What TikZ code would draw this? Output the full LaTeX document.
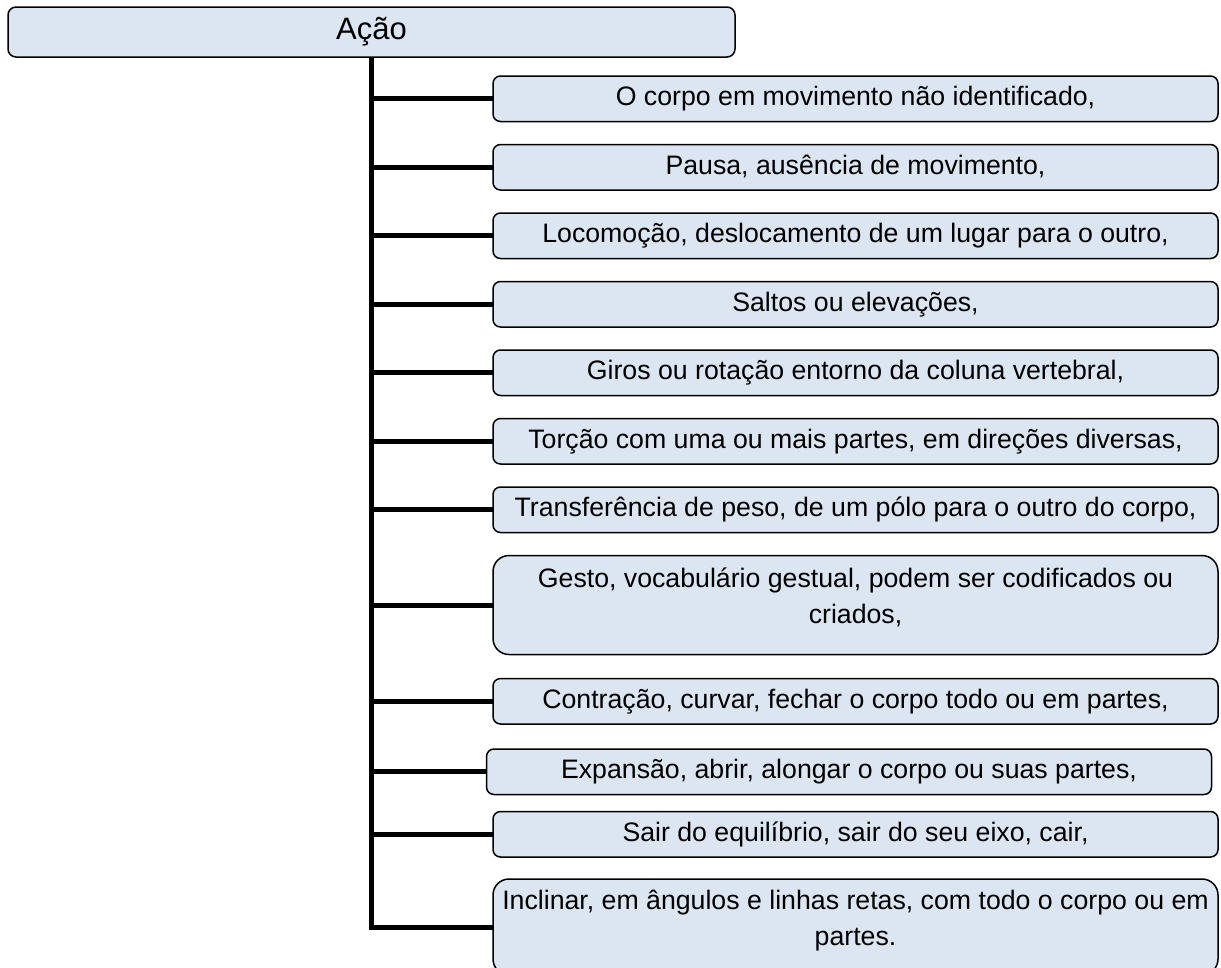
\documentclass[tikz,border=0pt]{standalone}
\usepackage{fontspec}
\setmainfont{Liberation Sans}
\usetikzlibrary{positioning}
\definecolor{boxfill}{RGB}{220,230,242}

\begin{document}
\begin{tikzpicture}[x = 1pt, y = -1pt, node distance = 23pt, line width = 1.5pt,
						main node/.style = {rectangle, draw, fill = boxfill, rounded corners = 8pt, minimum width = 727pt, minimum height = 50pt, inner sep = 0pt, outer sep = 0pt, font = \fontsize{31}{36}\selectfont},
						item node/.style = {rectangle, draw, fill = boxfill, rounded corners = 7.5pt, minimum width = 725pt, minimum height = 45.5pt, inner sep = 0pt, outer sep = 0pt, align = center, text height = 19pt, text depth = 5pt, font = \fontsize{26.7}{36}\selectfont},
						tall node/.style = {item node, rounded corners = 16pt, text height = {}, text depth = 19pt},
						branch/.style = {line width = 5pt, to path = {|- (\tikztotarget)}}]
		\useasboundingbox (0,0) rectangle (1221,967);

		\node[main node] (acao) at (371.5,32) {Ação};

		\node[item node] (i1) at (855.5,98.75) {O corpo em movimento não identificado,};
		\node[item node] (i2) [below = of i1] {Pausa, ausência de movimento,};
		\node[item node] (i3) [below = of i2] {Locomoção, deslocamento de um lugar para o outro,};
		\node[item node] (i4) [below = of i3] {Saltos ou elevações,};
		\node[item node] (i5) [below = of i4] {Giros ou rotação entorno da coluna vertebral,};
		\node[item node] (i6) [below = of i5] {Torção com uma ou mais partes, em direções diversas,};
		\node[item node] (i7) [below = of i6] {Transferência de peso, de um pólo para o outro do corpo,};
		\node[tall node, minimum height = 99pt] (i8) [below = of i7] {Gesto, vocabulário gestual, podem ser codificados ou\\ criados,};
		\node[item node] (i9) [below = 24pt of i8] {Contração, curvar, fechar o corpo todo ou em partes,};
		\node[item node] (i10) [below = 25pt of i9, xshift = -6.5pt] {Expansão, abrir, alongar o corpo ou suas partes,};
		\node[item node] (i11) [below = 17pt of i10, xshift = 6.5pt] {Sair do equilíbrio, sair do seu eixo, cair,};
		\node[tall node, minimum height = 96pt] (i12) [below = 22pt of i11] {Inclinar, em ângulos e linhas retas, com todo o corpo ou em\\ partes.};

		\path[branch]
		(acao.south) edge (i1)
		(acao.south) edge (i2)
		(acao.south) edge (i3)
		(acao.south) edge (i4)
		(acao.south) edge (i5)
		(acao.south) edge (i6)
		(acao.south) edge (i7)
		(acao.south) edge (i8)
		(acao.south) edge (i9)
		(acao.south) edge (i10)
		(acao.south) edge (i11)
		(acao.south) edge (i12);

	\end{tikzpicture}
\end{document}
